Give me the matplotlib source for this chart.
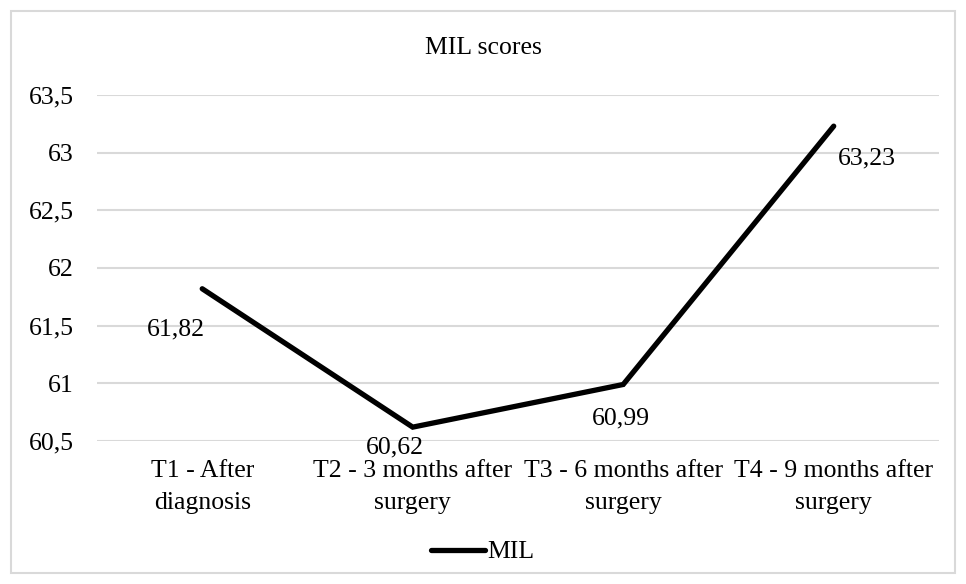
import matplotlib
matplotlib.use("Agg")
import matplotlib.pyplot as plt
from matplotlib.patches import Rectangle
from matplotlib.ticker import FuncFormatter

# data
categories = ["T1 - After\ndiagnosis", "T2 - 3 months after\nsurgery",
              "T3 - 6 months after\nsurgery", "T4 - 9 months after\nsurgery"]
mil_scores = [61.82, 60.62, 60.99, 63.23]
yticks = [60.5, 61, 61.5, 62, 62.5, 63, 63.5]
# label offsets (pixels) to mimic the Excel label placement
label_offsets = [(-26, -41), (-18, -20), (-2, -34), (33, -32)]

plt.rcParams["font.family"] = ["Liberation Serif", "DejaVu Serif"]
plt.rcParams["text.color"] = "black"

fig = plt.figure(figsize=(9.66, 5.84), dpi=100)
ax = fig.add_axes([0.1004, 0.2449, 0.8716, 0.5924])

# outer chart border
fig.patches.append(Rectangle((11 / 966, 11 / 584), 944 / 966, 562 / 584,
                             transform=fig.transFigure, fill=False,
                             edgecolor="#d9d9d9", linewidth=1.5))

x = list(range(len(categories)))
ax.plot(x, mil_scores, color="black", linewidth=3.8, solid_capstyle="round",
        solid_joinstyle="miter", label="MIL", zorder=3)

fs = 18.5
for xi, v, off in zip(x, mil_scores, label_offsets):
    ax.annotate(f"{v:.2f}".replace(".", ","), (xi, v), xytext=off,
                textcoords="offset pixels", ha="center", va="center",
                fontsize=fs)

ax.set_xlim(-0.5, 3.5)
ax.set_ylim(60.5, 63.5)
ax.set_yticks(yticks)
ax.yaxis.set_major_formatter(FuncFormatter(lambda v, p: f"{v:g}".replace(".", ",")))
ax.set_xticks(x)
ax.set_xticklabels(categories, linespacing=1.55)
ax.tick_params(axis="both", length=0, labelsize=fs, colors="black")
ax.tick_params(axis="y", pad=17)
ax.tick_params(axis="x", pad=14)
ax.grid(axis="y", color="#d9d9d9", linewidth=1.5)
ax.set_axisbelow(True)
for s in ax.spines.values():
    s.set_visible(False)

fig.text(0.5, 1 - 48 / 584, "MIL scores", ha="center", va="center", fontsize=fs)

fig.legend(loc="center", bbox_to_anchor=(0.5, 1 - 552 / 584), frameon=False,
           fontsize=fs, handlelength=2.1, handletextpad=0.1)

fig.savefig("out.png", dpi=100)
